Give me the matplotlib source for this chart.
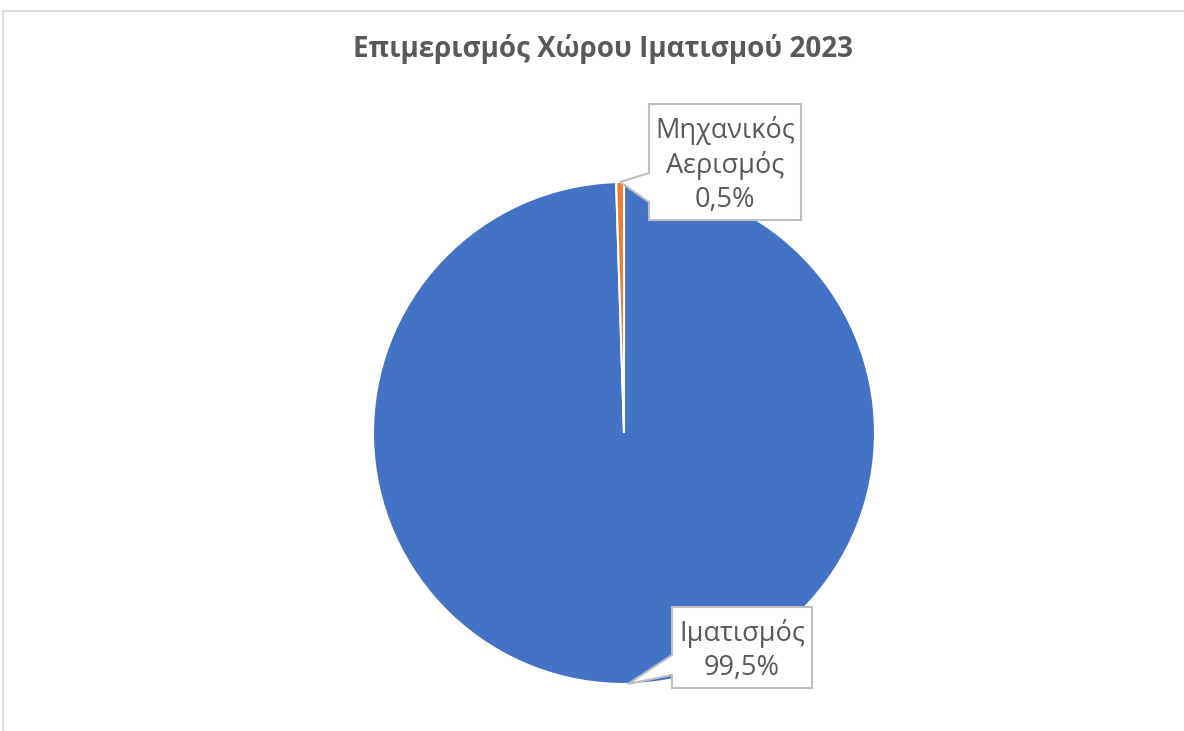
import numpy as np
import matplotlib
matplotlib.use("Agg")
import matplotlib.pyplot as plt
from matplotlib.patches import Polygon, Rectangle

plt.rcParams['font.family'] = ['Open Sans', 'DejaVu Sans']

# δεδομένα
κατηγορίες = ['Ιματισμός', 'Μηχανικός\nΑερισμός']
ποσοστά = [99.5, 0.5]
χρώματα = ['#4472C4', '#ED7D31']
τίτλος = 'Επιμερισμός Χώρου Ιματισμού 2023'

W, H = 1184, 731
κέντρο = (624, 433)   # κέντρο πίτας σε pixel
ακτίνα = 251          # ακτίνα σε pixel

fig = plt.figure(figsize=(W / 100, H / 100), dpi=100)
ax = fig.add_axes([0, 0, 1, 1])

# πλαίσιο γραφήματος
fig.patches.append(Rectangle((3 / W, -0.1), 1.5, 1 - 11 / H + 0.1, transform=fig.transFigure,
                             fill=False, edgecolor='#D9D9D9', linewidth=1.3))

wedges, _ = ax.pie(ποσοστά, colors=χρώματα, startangle=90, counterclock=False, radius=1,
                   wedgeprops=dict(edgecolor='white', linewidth=1.5))

ax.set_xlim(-κέντρο[0] / ακτίνα, (W - κέντρο[0]) / ακτίνα)
ax.set_ylim(-(H - κέντρο[1]) / ακτίνα, κέντρο[1] / ακτίνα)
ax.set_aspect('equal')
ax.axis('off')


def px(x, y):
    return ((x - κέντρο[0]) / ακτίνα, (κέντρο[1] - y) / ακτίνα)


# πλαίσια ετικετών σε pixel: (αριστερά, πάνω, δεξιά, κάτω, βάση δείκτη πάνω, βάση δείκτη κάτω)
πλαίσια = [(672, 607, 812, 688, 655, 675),
           (649, 104, 801, 220, 173, 202)]

for w, όνομα, τιμή, (l, t, r, b, p1, p2) in zip(wedges, κατηγορίες, ποσοστά, πλαίσια):
    γωνία = np.deg2rad((w.theta1 + w.theta2) / 2)
    άκρη = (np.cos(γωνία), np.sin(γωνία))
    κορυφές = [px(l, t), px(r, t), px(r, b), px(l, b), px(l, p2), άκρη, px(l, p1)]
    ax.add_patch(Polygon(κορυφές, closed=True, facecolor='white', edgecolor='#BFBFBF',
                         linewidth=1.5, zorder=3, joinstyle='miter'))
    cx, cy = px((l + r) / 2, (t + b) / 2 + 3)
    ax.text(cx, cy, f'{όνομα}\n{τιμή:.1f}%'.replace('.', ','), ha='center', va='center',
            fontsize=19.5, color='#595959', linespacing=1.3, zorder=4)

fig.text(603 / W, 1 - 49 / H, τίτλος, ha='center', va='center', fontsize=20,
         fontweight='bold', color='#595959')

fig.savefig('out.png', dpi=100)
